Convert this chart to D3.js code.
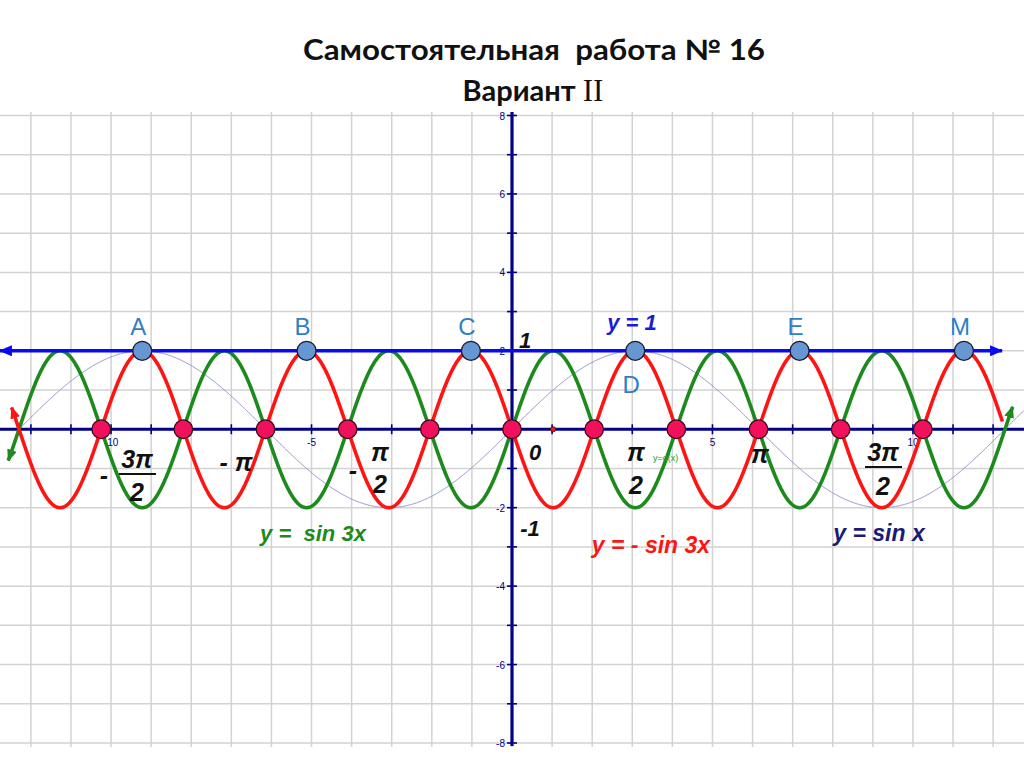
<!DOCTYPE html>
<html><head><meta charset="utf-8">
<script src="https://cdn.jsdelivr.net/npm/d3@7"></script>
<style>body{margin:0;background:#fff}svg{display:block}text{white-space:pre}</style>
</head><body>
<svg id="c" width="1024" height="767"></svg>
<script>
// ---------- data ----------
const titleLine1 = "Самостоятельная  работа № 16";
const titleLine2 = "Вариант ";
const titleRoman = "II";
const gridXUnits = [-12,-11,-10,-9,-8,-7,-6,-5,-4,-3,-2,-1,0,1,2,3,4,5,6,7,8,9,10,11,12];
const gridYUnits = [-8,-7,-6,-5,-4,-3,-2,-1,0,1,2,3,4,5,6,7,8];
const xTickLabels = [-10, -5, 5, 10];
const yTickLabels = [-8, -6, -4, -2, 2, 4, 6, 8];
// curves y = amp * sin(freq * x), x in radians
const curveNames = ["y =  sin 3x", "y = - sin 3x", "y = sin x"];
const curveAmp = [1, -1, 1];
const curveFreq = [3, 3, 1];
const curveStart = [-6.42, -6.377, -6.31];
const curveEnd = [6.38, 6.25, 6.53];
// horizontal line y = 1
const lineY = 1;
const lineStart = -6.526, lineEnd = 6.246;
// intersection points (x in multiples of π)
const zeroPointsPi = [-5/3, -4/3, -1, -2/3, -1/3, 0, 1/3, 2/3, 1, 4/3, 5/3];
const peakPointsPi = [-3/2, -5/6, -1/6, 1/2, 7/6, 11/6];
const peakLabels = ["A", "B", "C", "D", "E", "M"];
const smallPointPi = [1/6];

// ---------- styles ----------
const curveColors = ["#1c8a1c", "#ff1414", "#8a8ac8"];
const curveWidths = [3.6, 3.6, 1];
const navy = "#000088";

const svg = d3.select("#c");
const W = 1024;

// grid-unit scales (axes)
const gx = d3.scaleLinear().domain([-12.77, 12.77]).range([0, W]);
const gy = d3.scaleLinear().domain([8, -8]).range([115.5, 743]);
// radian scales (curves)
const xr = d3.scaleLinear().domain([-Math.PI, Math.PI]).range([512 - 246.5, 512 + 246.5]);
const yr = d3.scaleLinear().domain([4, -4]).range([115.5, 743]);

// ---------- defs / markers ----------
const defs = svg.append("defs");
function marker(id, color, len, wid) {
  defs.append("marker").attr("id", id)
    .attr("markerUnits", "userSpaceOnUse")
    .attr("viewBox", `0 ${-wid/2} ${len} ${wid}`)
    .attr("refX", len - 1).attr("refY", 0)
    .attr("markerWidth", len).attr("markerHeight", wid)
    .attr("orient", "auto-start-reverse")
    .append("path").attr("d", `M0,${-wid/2}L${len},0L0,${wid/2}Z`).attr("fill", color);
}
marker("arBlue", "#0a0af0", 13, 11);
marker("arRed", curveColors[1], 12, 10);
marker("arGreen", curveColors[0], 12, 10);

// ---------- grid ----------
const grid = svg.append("g").attr("stroke", "#d2d2d2").attr("stroke-width", 1.5);
grid.selectAll("line.v").data(gridXUnits).join("line")
  .attr("x1", d => gx(d)).attr("x2", d => gx(d))
  .attr("y1", 112).attr("y2", 747);
grid.selectAll("line.h").data(gridYUnits).join("line")
  .attr("x1", 0).attr("x2", W)
  .attr("y1", d => gy(d)).attr("y2", d => gy(d));

// ---------- axes ----------
const ax = svg.append("g").attr("stroke", navy);
ax.append("line").attr("x1", 0).attr("x2", W).attr("y1", gy(0)).attr("y2", gy(0)).attr("stroke-width", 3.2);
ax.append("line").attr("x1", gx(0)).attr("x2", gx(0)).attr("y1", 112).attr("y2", 746).attr("stroke-width", 3.2);
ax.selectAll("line.tx").data(gridXUnits.filter(d => d !== 0)).join("line")
  .attr("x1", d => gx(d)).attr("x2", d => gx(d))
  .attr("y1", gy(0) - 5).attr("y2", gy(0) + 5).attr("stroke-width", 1.6);
ax.selectAll("line.ty").data(gridYUnits.filter(d => d !== 0)).join("line")
  .attr("x1", gx(0) - 5).attr("x2", gx(0) + 5)
  .attr("y1", d => gy(d)).attr("y2", d => gy(d)).attr("stroke-width", 1.6);

const tickFont = "'Liberation Sans', Arial, sans-serif";
svg.append("g").selectAll("text").data(xTickLabels).join("text")
  .attr("x", d => gx(d)).attr("y", gy(0) + 17)
  .attr("text-anchor", "middle").attr("font-family", tickFont).attr("font-size", 10)
  .attr("fill", navy).text(d => d);
svg.append("g").selectAll("text").data(yTickLabels).join("text")
  .attr("x", gx(0) - 7).attr("y", d => gy(d) + 4)
  .attr("text-anchor", "end").attr("font-family", tickFont).attr("font-size", 10)
  .attr("fill", navy).text(d => d);

// ---------- curves ----------
const line = d3.line().x(d => xr(d[0])).y(d => yr(d[1]));
const curveOrder = [2, 0, 1];
curveOrder.forEach(i => {
  const step = 0.005;
  const n = Math.round((curveEnd[i] - curveStart[i]) / step);
  const pts = d3.range(n + 1).map(k => {
    const t = curveStart[i] + (curveEnd[i] - curveStart[i]) * k / n;
    return [t, curveAmp[i] * Math.sin(curveFreq[i] * t)];
  });
  const p = svg.append("path").datum(pts).attr("d", line)
    .attr("fill", "none").attr("stroke", curveColors[i])
    .attr("stroke-width", curveWidths[i]).attr("stroke-linejoin", "round");
  if (i === 1) p.attr("marker-start", "url(#arRed)");
  if (i === 0) p.attr("marker-start", "url(#arGreen)").attr("marker-end", "url(#arGreen)");
});
svg.append("path").datum([[lineStart, lineY], [lineEnd, lineY]]).attr("d", line)
  .attr("fill", "none").attr("stroke", "#0a0af0").attr("stroke-width", 3.6)
  .attr("marker-start", "url(#arBlue)").attr("marker-end", "url(#arBlue)");

// small point on axis
svg.append("g").selectAll("circle").data(smallPointPi).join("circle")
  .attr("cx", d => xr(d * Math.PI)).attr("cy", yr(0)).attr("r", 2.6)
  .attr("fill", "#e02020").attr("stroke", "#600").attr("stroke-width", 0.8);

// zero points
svg.append("g").selectAll("circle").data(zeroPointsPi).join("circle")
  .attr("cx", d => xr(d * Math.PI)).attr("cy", yr(0)).attr("r", 9.3)
  .attr("fill", "#f0105c").attr("stroke", "#3a0a1a").attr("stroke-width", 1.3);
// peak points
svg.append("g").selectAll("circle").data(peakPointsPi).join("circle")
  .attr("cx", d => xr(d * Math.PI)).attr("cy", yr(lineY)).attr("r", 9.5)
  .attr("fill", "#6797d2").attr("stroke", "#1a1a30").attr("stroke-width", 1.3);
svg.append("g").selectAll("text").data(peakPointsPi).join("text")
  .attr("x", d => xr(d * Math.PI) - 4)
  .attr("y", (d, i) => peakLabels[i] === "D" ? 393 : 335)
  .attr("text-anchor", "middle").attr("font-family", tickFont).attr("font-size", 24)
  .attr("fill", "#2f7fc6").text((d, i) => peakLabels[i]);

// ---------- annotations ----------
const ann = svg.append("g").attr("font-family", tickFont).attr("font-weight", "bold").attr("font-style", "italic");
function t(x, y, s, size, color, anchor) {
  return ann.append("text").attr("x", x).attr("y", y).attr("font-size", size)
    .attr("fill", color).attr("text-anchor", anchor || "middle").text(s);
}
t(632, 330, "y = 1", 22, "#1a1ad8");
t(525, 348, "1", 22, "#111");
t(535, 460, "0", 22, "#111");
t(530, 536, "-1", 22, "#111");
t(313, 541, curveNames[0], 22, curveColors[0]);
t(651, 553, curveNames[1], 23, curveColors[1]);
t(879, 541, curveNames[2], 23, "#1a1a78");
// π labels
t(137, 468, "3π", 25, "#111");
ann.append("line").attr("x1", 119).attr("x2", 156).attr("y1", 474).attr("y2", 474).attr("stroke", "#111").attr("stroke-width", 2.2);
t(137, 501, "2", 25, "#111");
t(104, 484, "-", 25, "#111");
t(236, 471, "- π", 25, "#111");
t(380, 461, "π", 25, "#111");
t(353, 479, "-", 25, "#111");
t(380, 493, "2", 25, "#111");
t(636, 461, "π", 25, "#111");
t(636, 494, "2", 25, "#111");
t(760, 463, "π", 25, "#111");
t(883, 461, "3π", 25, "#111");
ann.append("line").attr("x1", 865).attr("x2", 902).attr("y1", 467).attr("y2", 467).attr("stroke", "#111").attr("stroke-width", 2.2);
t(883, 495, "2", 25, "#111");
svg.append("text").attr("x", 653).attr("y", 461).attr("font-family", tickFont).attr("font-size", 9)
  .attr("fill", "#2a9a2a").text("y=q(x)");

// ---------- title ----------
const titleFont = "Lato, 'Open Sans', sans-serif";
svg.append("text").attr("x", 534).attr("y", 60).attr("text-anchor", "middle")
  .attr("font-family", titleFont).attr("font-weight", "bold").attr("font-size", 28)
  .attr("fill", "#111").attr("textLength", 462).attr("lengthAdjust", "spacingAndGlyphs")
  .text(titleLine1);
const t2 = svg.append("text").attr("x", 533).attr("y", 101).attr("text-anchor", "middle")
  .attr("font-family", titleFont).attr("font-weight", "bold").attr("font-size", 29).attr("fill", "#111");
t2.append("tspan").text(titleLine2);
t2.append("tspan").attr("font-family", "'Liberation Serif', serif").attr("font-weight", "normal").attr("font-size", 31).text(titleRoman);
</script>
</body></html>
